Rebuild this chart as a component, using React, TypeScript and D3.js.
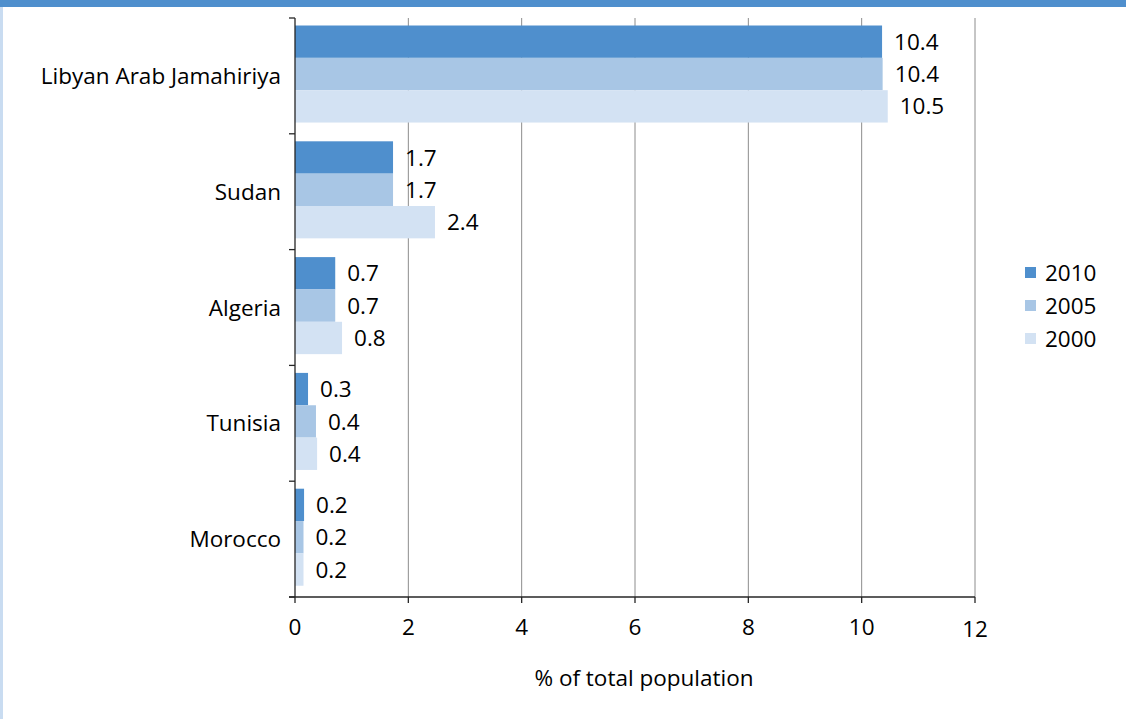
import React from "react";
import * as d3 from "d3";

const categories = ["Libyan Arab Jamahiriya", "Sudan", "Algeria", "Tunisia", "Morocco"];
const seriesNames = ["2010", "2005", "2000"];
const values2010 = [10.36, 1.73, 0.71, 0.23, 0.16];
const values2005 = [10.37, 1.73, 0.71, 0.37, 0.15];
const values2000 = [10.46, 2.47, 0.83, 0.39, 0.15];
const valueLabels2010 = ["10.4", "1.7", "0.7", "0.3", "0.2"];
const valueLabels2005 = ["10.4", "1.7", "0.7", "0.4", "0.2"];
const valueLabels2000 = ["10.5", "2.4", "0.8", "0.4", "0.2"];
const xTicks = [0, 2, 4, 6, 8, 10, 12];
const colors = ["#4F8FCD", "#A8C6E5", "#D3E2F3"];
const axisTitle = "% of total population";

const W = 1126;
const H = 719;
const FONT = "'Open Sans', 'Noto Sans', sans-serif";
const FS = 22.5;

export default function App() {
  const left = 295, right = 975, top = 18, bottom = 597;
  const x = d3.scaleLinear().domain([0, 12]).range([left, right]);
  const y = d3.scaleBand<string>().domain(categories).range([top, bottom]).paddingInner(0).paddingOuter(0);
  const inner = d3.scaleBand<string>().domain(seriesNames).range([0, y.bandwidth()]).paddingOuter(0.29).align(0.4);
  const series = [values2010, values2005, values2000];
  const labels = [valueLabels2010, valueLabels2005, valueLabels2000];
  const boundaries = categories.map((c) => y(c)!).concat([bottom]);

  return (
    <svg width={W} height={H} style={{ position: "absolute", left: 0, top: 0, background: "#fff" }}>
      <rect x={0} y={0} width={W} height={H} fill="#fff" />
      <rect x={0} y={0} width={W} height={7} fill="#4F8FCD" />
      <rect x={0} y={7} width={3} height={H - 7} fill="#C9DCF1" />
      {/* gridlines */}
      {xTicks.filter((t) => t > 0).map((t) => (
        <line key={"g" + t} x1={x(t)} x2={x(t)} y1={top} y2={bottom} stroke="#8C8C8C" strokeWidth={1} />
      ))}
      {/* bars */}
      {categories.map((c, i) =>
        seriesNames.map((s, j) => {
          const by = y(c)! + inner(s)!;
          const bh = inner.bandwidth();
          const v = series[j][i];
          return (
            <g key={c + s}>
              <rect x={x(0)} y={by} width={x(v) - x(0)} height={bh} fill={colors[j]} />
              <text x={x(v) + 12} y={by + bh / 2} dy="0.36em" fontFamily={FONT} fontSize={FS} fill="#000">
                {labels[j][i]}
              </text>
            </g>
          );
        })
      )}
      {/* y axis */}
      <line x1={left} x2={left} y1={top} y2={bottom} stroke="#262626" strokeWidth={1.3} />
      {boundaries.map((b, i) => (
        <line key={"yt" + i} x1={left - 6} x2={left} y1={b} y2={b} stroke="#262626" strokeWidth={1.3} />
      ))}
      {categories.map((c) => (
        <text key={"cl" + c} x={281} y={y(c)! + y.bandwidth() / 2} dy="0.36em" textAnchor="end" fontFamily={FONT} fontSize={FS} fill="#000">
          {c}
        </text>
      ))}
      {/* x axis */}
      <line x1={left - 6} x2={right} y1={bottom} y2={bottom} stroke="#262626" strokeWidth={1.3} />
      {xTicks.map((t) => (
        <g key={"xt" + t}>
          <line x1={x(t)} x2={x(t)} y1={bottom} y2={bottom + 6} stroke="#262626" strokeWidth={1.3} />
          <text x={x(t)} y={t === 12 ? 637 : 635} textAnchor="middle" fontFamily={FONT} fontSize={FS} fill="#000">
            {t}
          </text>
        </g>
      ))}
      <text x={644} y={686} textAnchor="middle" fontFamily={FONT} fontSize={FS} fill="#000">
        {axisTitle}
      </text>
      {/* legend */}
      {seriesNames.map((s, j) => (
        <g key={"lg" + s}>
          <rect x={1025} y={267 + j * 33} width={11} height={11} fill={colors[j]} />
          <text x={1045} y={272.5 + j * 33} dy="0.36em" fontFamily={FONT} fontSize={FS} fill="#000">
            {s}
          </text>
        </g>
      ))}
    </svg>
  );
}
